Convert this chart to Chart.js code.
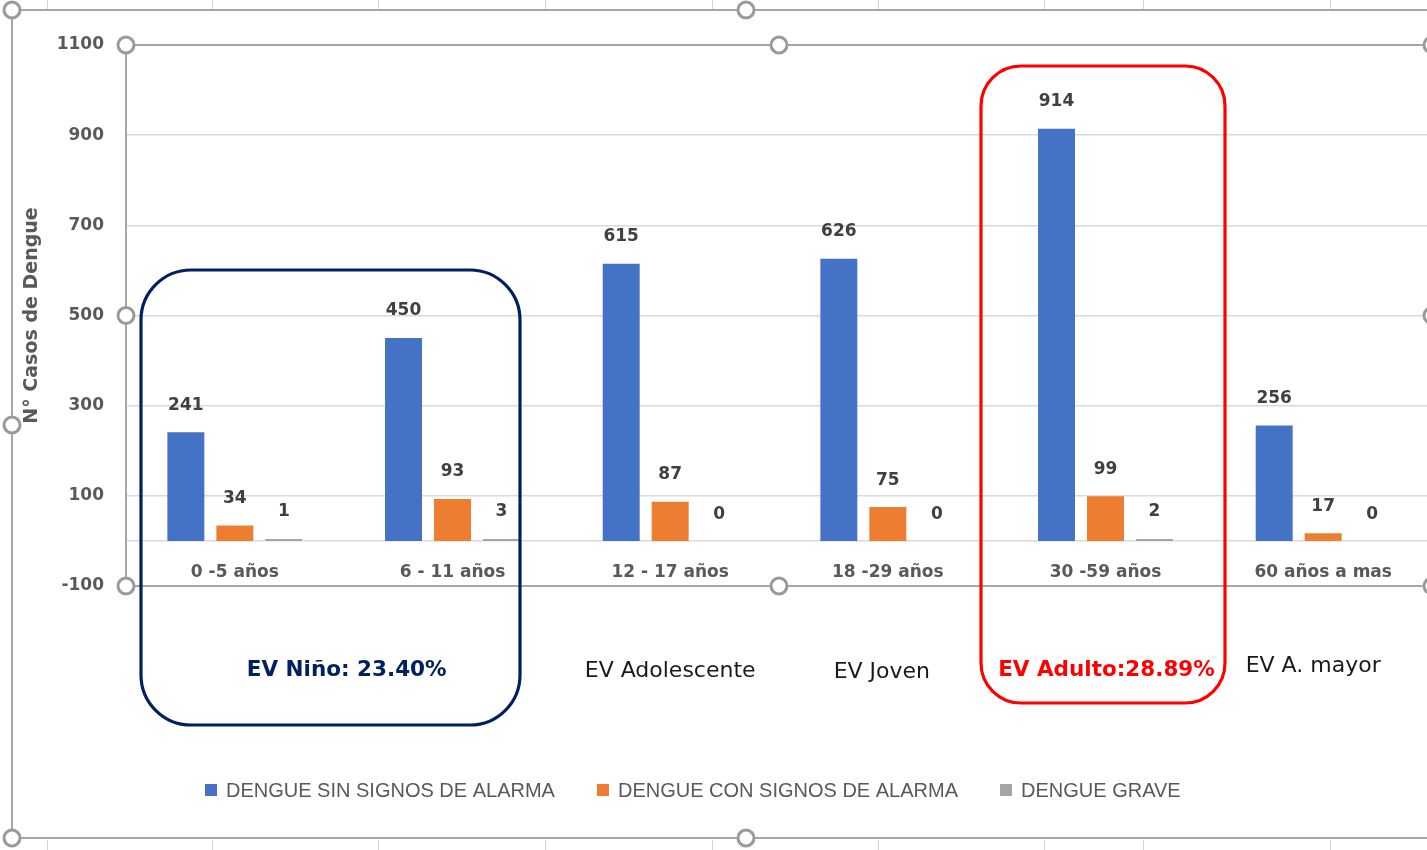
<!DOCTYPE html>
<html>
<head>
<meta charset="utf-8">
<script src="https://cdn.jsdelivr.net/npm/chart.js@4.4.1/dist/chart.umd.min.js"></script>
<style>
html, body { margin: 0; padding: 0; background: #fff; overflow: hidden; }
#wrap { position: relative; width: 1440px; height: 850px; }
</style>
</head>
<body>
<div id="wrap"><canvas id="chart" width="1440" height="850"></canvas></div>
<script>
// Chart data
const categories = ['0 -5 años', '6 - 11 años', '12 - 17 años', '18 -29 años', '30 -59 años', '60 años a mas'];
const sinSignos = [241, 450, 615, 626, 914, 256];
const conSignos = [34, 93, 87, 75, 99, 17];
const grave = [1, 3, 0, 0, 2, 0];
const seriesNames = ['DENGUE SIN SIGNOS DE ALARMA', 'DENGUE CON SIGNOS DE ALARMA', 'DENGUE GRAVE'];
const yTicks = [-100, 100, 300, 500, 700, 900, 1100];
const stageTexts = ['EV Niño: 23.40%', 'EV Adolescente', 'EV Joven', 'EV Adulto:28.89%', 'EV A. mayor'];

const colors = ['#4472c4', '#ed7d31', '#a5a5a5'];
const FONT = '"DejaVu Sans", sans-serif';
const LEGEND_FONT = '"Liberation Sans", Arial, sans-serif';
const GRAY_TXT = '#595959';

// selection handle (Excel look)
function handle(ctx, x, y) {
    ctx.beginPath();
    ctx.arc(x, y, 8, 0, Math.PI * 2);
    ctx.fillStyle = '#fff';
    ctx.fill();
    ctx.lineWidth = 3;
    ctx.strokeStyle = '#9a9a9a';
    ctx.stroke();
}

function roundBox(ctx, x, y, w, h, r, color) {
    ctx.beginPath();
    ctx.roundRect(x, y, w, h, r);
    ctx.lineWidth = 3.2;
    ctx.strokeStyle = color;
    ctx.stroke();
}

const overlayPlugin = {
    id: 'overlay',
    beforeDatasetsDraw(chart) {
        const { ctx, chartArea: a } = chart;
        ctx.save();
        // plot-area selection frame
        ctx.strokeStyle = '#a6a6a6';
        ctx.lineWidth = 2;
        ctx.strokeRect(a.left, a.top, a.right - a.left, a.bottom - a.top);
        ctx.restore();
    },
    afterDatasetsDraw(chart) {
        const { ctx } = chart;
        ctx.save();
        ctx.font = 'bold 17px ' + FONT;
        ctx.fillStyle = '#404040';
        ctx.textAlign = 'center';
        ctx.textBaseline = 'middle';
        chart.data.datasets.forEach((ds, i) => {
            chart.getDatasetMeta(i).data.forEach((bar, j) => {
                ctx.fillText(String(ds.data[j]), bar.x, bar.y - 27);
            });
        });
        ctx.restore();
    },
    afterDraw(chart) {
        const { ctx, chartArea: a } = chart;
        const xs = chart.scales.x;
        ctx.save();

        // group boxes
        roundBox(ctx, 141, 270, 379, 455, 50, '#002060');
        roundBox(ctx, 981, 66, 244, 637, 40, '#ff0000');

        // life-stage labels under the categories
        const cx = k => xs.getPixelForValue(k);
        const stages = [
            { x: (cx(0) + cx(1)) / 2 + 3, y: 670, bold: true, color: '#002060' },
            { x: cx(2), y: 671, bold: false, color: '#1a1a1a' },
            { x: cx(3) - 6, y: 672, bold: false, color: '#1a1a1a' },
            { x: cx(4) + 1, y: 670, bold: true, color: '#ff0000' },
            { x: cx(5) - 10, y: 666, bold: false, color: '#1a1a1a' }
        ];
        ctx.textAlign = 'center';
        ctx.textBaseline = 'middle';
        stages.forEach((s, i) => {
            ctx.font = (s.bold ? 'bold 21.5px ' : '22px ') + FONT;
            ctx.fillStyle = s.color;
            ctx.fillText(stageTexts[i], s.x, s.y);
        });

        // legend
        ctx.font = '20px ' + LEGEND_FONT;
        ctx.textAlign = 'left';
        let lx = 205;
        seriesNames.forEach((name, i) => {
            ctx.fillStyle = colors[i];
            ctx.fillRect(lx, 784, 12, 12);
            ctx.fillStyle = GRAY_TXT;
            ctx.fillText(name, lx + 21, 791);
            lx += 21 + ctx.measureText(name).width + 42;
        });

        // outer chart frame
        ctx.strokeStyle = '#a6a6a6';
        ctx.lineWidth = 2;
        ctx.beginPath();
        ctx.moveTo(1440, 10); ctx.lineTo(12, 10); ctx.lineTo(12, 838); ctx.lineTo(1440, 838);
        ctx.stroke();
        // spreadsheet cell lines peeking out
        ctx.strokeStyle = '#d4d4d4';
        ctx.lineWidth = 1;
        [47, 212, 378, 545, 712, 878, 1044, 1143, 1330].forEach(x => {
            ctx.beginPath(); ctx.moveTo(x + 0.5, 840); ctx.lineTo(x + 0.5, 850); ctx.stroke();
            ctx.beginPath(); ctx.moveTo(x + 0.5, 0); ctx.lineTo(x + 0.5, 9); ctx.stroke();
        });
        handle(ctx, 12, 10);
        handle(ctx, 746, 10);
        handle(ctx, 12, 425);
        handle(ctx, 12, 838);
        handle(ctx, 746, 838);

        // plot-area handles
        const mx = (a.left + a.right) / 2, my = (a.top + a.bottom) / 2;
        [[a.left, a.top], [mx, a.top], [a.right, a.top], [a.left, my], [a.right, my],
         [a.left, a.bottom], [mx, a.bottom], [a.right, a.bottom]].forEach(p => handle(ctx, p[0], p[1]));
        ctx.restore();
    }
};

const ctx = document.getElementById('chart').getContext('2d');
new Chart(ctx, {
    type: 'bar',
    data: {
        labels: categories,
        datasets: [
            { label: seriesNames[0], data: sinSignos, backgroundColor: colors[0] },
            { label: seriesNames[1], data: conSignos, backgroundColor: colors[1] },
            {
                label: seriesNames[2], data: grave, minBarLength: 2,
                // a zero count gets no visible bar
                backgroundColor: c => (c.raw === 0 ? 'rgba(0,0,0,0)' : colors[2])
            }
        ]
    },
    options: {
        responsive: false,
        animation: false,
        events: [],
        layout: { padding: { left: 12, right: 8, top: 45, bottom: 264 } },
        datasets: { bar: { categoryPercentage: 0.675, barPercentage: 0.755 } },
        plugins: { legend: { display: false }, tooltip: { enabled: false } },
        scales: {
            x: {
                position: { y: 0 },
                grid: { display: false, drawTicks: false },
                border: { color: '#d9d9d9', width: 1.5 },
                ticks: { color: GRAY_TXT, font: { family: FONT, size: 17, weight: 'bold' }, padding: 21 }
            },
            y: {
                min: -100,
                max: 1100,
                afterBuildTicks: scale => { scale.ticks = yTicks.map(v => ({ value: v })); },
                afterFit: scale => { scale.width = 114; },
                grid: { color: '#d9d9d9', lineWidth: 1.5, drawTicks: false },
                border: { display: false },
                ticks: {
                    color: GRAY_TXT,
                    font: { family: FONT, size: 17, weight: 'bold' },
                    padding: 22,
                    callback: v => String(v)
                },
                title: {
                    display: true,
                    text: 'N° Casos de Dengue',
                    color: GRAY_TXT,
                    font: { family: FONT, size: 19, weight: 'bold' },
                    padding: { top: 9, bottom: 0 }
                }
            }
        }
    },
    plugins: [overlayPlugin]
});
</script>
</body>
</html>
